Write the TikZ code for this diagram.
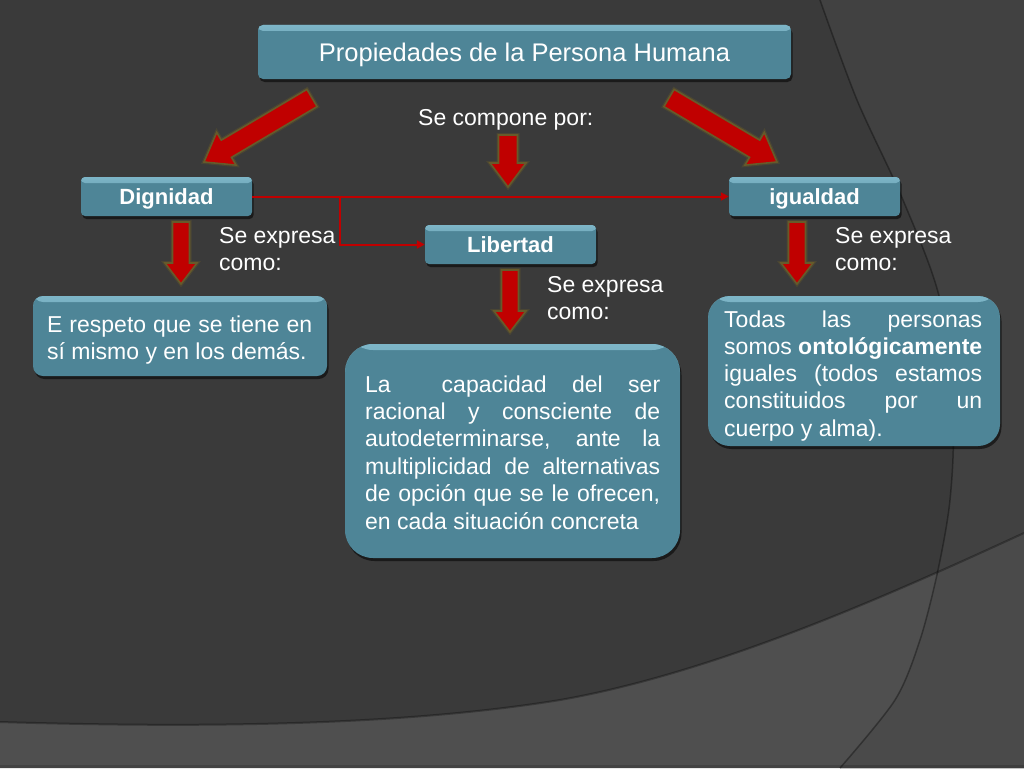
\documentclass[tikz,border=0pt]{standalone}
\usepackage{fontspec}
\setmainfont{Liberation Sans}
\usetikzlibrary{calc,shadows,arrows.meta}
\definecolor{bg}{HTML}{3A3A3A}
\definecolor{bgarc}{HTML}{414141}
\definecolor{bglow}{HTML}{4F4F4F}
\definecolor{bglowarc}{HTML}{4A4A4A}
\definecolor{boxfill}{HTML}{4E8597}
\definecolor{boxhi}{HTML}{7DB5C7}
\definecolor{redarr}{HTML}{C00000}
\definecolor{glow}{HTML}{675A2A}
\newcommand\arcpath{plot[smooth] coordinates {(820,0) (857,100) (903,200) (940,300) (953,420) (950,500) (938,570) (920,640) (895,700) (840,768)}}
\newcommand\lowpath{(0,722) .. controls (200,728) and (400,726) .. (560,700) .. controls (720,672) and (900,590) .. (1024,533)}
\newcommand\blockarr[5]{%
  \coordinate (hb) at ($(#2)!#5!(#1)$);
  \path[barrow] ($(#1)!#3!90:(#2)$) -- ($(hb)!#3!90:(#2)$) -- ($(hb)!#4!90:(#2)$) -- (#2) -- ($(hb)!#4!-90:(#2)$) -- ($(hb)!#3!-90:(#2)$) -- ($(#1)!#3!-90:(#2)$) -- cycle;}
\tikzset{
  tbox/.style={fill=boxfill, rounded corners=#1, inner sep=0pt, draw=none,
    drop shadow={shadow xshift=1.5pt, shadow yshift=-3pt, opacity=0.55, fill=black},
    path picture={\shade[top color=boxhi, bottom color=boxfill] (path picture bounding box.north west) rectangle ([yshift=-6pt]path picture bounding box.north east);}},
  lbl/.style={tbox=4pt, text=white, font=\fontsize{22}{26}\selectfont\bfseries, text height=15.8pt, text depth=0pt, minimum width=171pt, minimum height=39pt},
  btxt/.style={text=white, inner sep=0pt, anchor=base west, font=\fontsize{23}{27.4}\selectfont,
    execute at begin node={\spaceskip=0pt\xspaceskip=0pt\relax}},
  rline/.style={draw=redarr, line width=2pt, -{Triangle[length=8pt,width=8pt]}},
  barrow/.style={fill=redarr, draw=glow, line width=1.6pt, line join=miter, preaction={draw=glow, line width=4pt, opacity=0.35, line join=miter}},
}
\begin{document}
\begin{tikzpicture}[x=1pt,y=-1pt]
\useasboundingbox (0,0) rectangle (1024,768);
% background
\fill[bg] (0,0) rectangle (1024,768);
\fill[bgarc] \arcpath -- (1024,768) -- (1024,0) -- cycle;
\fill[bglow] \lowpath -- (1024,768) -- (0,768) -- cycle;
\begin{scope}
  \clip \lowpath -- (1024,768) -- (0,768) -- cycle;
  \fill[bglowarc] \arcpath -- (1024,768) -- (1024,0) -- cycle;
\end{scope}
\draw[black, opacity=0.35, line width=1.5pt] \arcpath;
\draw[black, opacity=0.3, line width=2pt] \lowpath;
\fill[black, opacity=0.15] (0,765) rectangle (1024,768);

% main nodes
\node[tbox=5pt, minimum width=533pt, minimum height=54pt, text=white, font=\fontsize{25.5}{30}\selectfont, text height=18.3pt, text depth=0pt] (title) at (524.5,52) {Propiedades de la Persona Humana};
\node[btxt] (comp) at (418,125) {Se compone por:};

\node[lbl] (dig) at (166.5,196.5) {Dignidad};
\node[lbl] (igu) at (814.5,196.5) {igualdad};
\node[lbl] (lib) at (510.5,244.5) {Libertad};

\node[btxt, text width=140pt] (sel) at (219,243) {Se expresa\\como:};
\node[btxt, text width=140pt] (sem) at (547,292) {Se expresa\\como:};
\node[btxt, text width=140pt] (ser) at (835,243) {Se expresa\\como:};

\node[tbox=10pt, minimum width=294pt, minimum height=80pt] (resbox) at (180,336) {};
\node[tbox=28pt, minimum width=335pt, minimum height=214pt] (libbox) at (512.5,451) {};
\node[tbox=22pt, minimum width=292pt, minimum height=150pt] (igubox) at (854,371) {};

\node[btxt, text width=280pt] (restxt) at (47,332) {\makebox[265pt][s]{E respeto que se tiene en}\\sí mismo y en los demás.};
\node[btxt, text width=300pt] (libtxt) at (365,392) {\makebox[295pt][s]{La\ \ capacidad del ser}\\
\makebox[295pt][s]{racional y consciente de}\\
\makebox[295pt][s]{autodeterminarse, ante la}\\
\makebox[295pt][s]{multiplicidad de alternativas}\\
\makebox[295pt][s]{de opción que se le ofrecen,}\\
en cada situación concreta};
\node[btxt, text width=270pt, font=\fontsize{23}{27.3}\selectfont] (igutxt) at (724,327) {\makebox[258pt][s]{Todas las personas}\\
\makebox[258pt][s]{somos \textbf{ontológicamente}}\\
\makebox[258pt][s]{iguales (todos estamos}\\
\makebox[258pt][s]{constituidos por un}\\
cuerpo y alma).};

% thin red connectors
\coordinate (j) at ($(dig.east)+(88,0)$);
\draw[rline] (dig.east) -- (igu.west);
\draw[rline] (j) |- (lib.west);

% block arrows
\coordinate (lt) at (312,98);  \coordinate (lh) at (204,162);
\coordinate (rt) at (669,98);  \coordinate (rh) at (777,162);
\coordinate (ct) at (508,135); \coordinate (ch) at (508,187);
\coordinate (dt) at (181,222); \coordinate (dh) at (181,284);
\coordinate (bt) at (510,270); \coordinate (bh) at (510,332);
\coordinate (it) at (797,222); \coordinate (ih) at (797,284);
\blockarr{lt}{lh}{10pt}{19pt}{26pt}
\blockarr{rt}{rh}{10pt}{19pt}{26pt}
\blockarr{ct}{ch}{9.5pt}{18pt}{24pt}
\blockarr{dt}{dh}{8.5pt}{16pt}{21pt}
\blockarr{bt}{bh}{8.5pt}{16pt}{21pt}
\blockarr{it}{ih}{8.5pt}{16pt}{21pt}
\end{tikzpicture}
\end{document}
